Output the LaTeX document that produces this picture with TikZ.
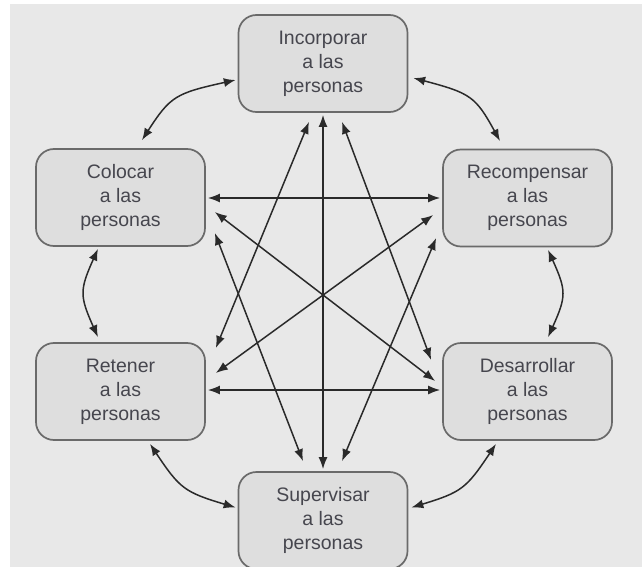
\documentclass[tikz,border=0pt]{standalone}
\usepackage{fontspec}
\setmainfont{Liberation Sans}
\usetikzlibrary{calc,arrows.meta,bending}
\definecolor{bgc}{HTML}{E8E8E8}
\definecolor{boxc}{HTML}{DEDEDE}
\definecolor{edgec}{HTML}{6A6A6A}
\definecolor{txtc}{HTML}{46464E}
\definecolor{arrc}{HTML}{2A2A2A}
\begin{document}
\begin{tikzpicture}[x=1pt,y=-1pt,
  proc/.style={draw=edgec, line width=1.7pt, fill=boxc, rounded corners=18pt,
    minimum width=169pt, minimum height=97pt, inner sep=0pt, align=center,
    text=txtc, font=\fontsize{19.5}{24}\selectfont},
  arr/.style={draw=arrc, line width=1.5pt, {Latex[length=12pt,width=9pt]}-{Latex[length=12pt,width=9pt]}},
  carr/.style={draw=arrc, line width=1.5pt, {Latex[length=12pt,width=9pt,bend]}-{Latex[length=12pt,width=9pt,bend]}}]
\useasboundingbox (0,0) rectangle (642,567);
\fill[white] (0,0) rectangle (642,567);
\fill[bgc] (10,4) rectangle (642,567);

\node[proc] (inc) at (323,63.5) {Incorporar\\a las\\personas};
\node[proc] (col) at (120.5,197.5) {Colocar\\a las\\personas};
\node[proc] (rec) at (527.5,198) {Recompensar\\a las\\personas};
\node[proc] (ret) at (120.5,391.5) {Retener\\a las\\personas};
\node[proc] (des) at (527.5,391.5) {Desarrollar\\a las\\personas};
\node[proc] (sup) at (323,520.5) {Supervisar\\a las\\personas};

% straight connectors
\draw[arr] ($(col.east)+(2,0.5)$) -- ($(rec.west)+(-2,0)$);
\draw[arr] ($(ret.east)+(2,-1.5)$) -- ($(des.west)+(-2,-1.5)$);
\draw[arr] ($(col.east)+(9,14.5)$) -- ($(des.west)+(-7,-10.5)$);
\draw[arr] ($(ret.east)+(10,-18.5)$) -- ($(rec.west)+(-9,17)$);
\draw[arr] ($(col.east)+(9,35.5)$) -- ($(sup.north)+(-20,-10)$);
\draw[arr] ($(ret.east)+(10,-43.5)$) -- ($(inc.south)+(-14,9)$);
\draw[arr] ($(rec.west)+(-6,40)$) -- ($(sup.north)+(19,-10)$);
\draw[arr] ($(inc.south)+(19,9)$) -- ($(des.west)+(-11,-31.5)$);
\draw[arr] ($(inc.south)+(0,2)$) -- ($(sup.north)+(0,-2)$);

% curved connectors
\draw[carr] ($(inc.west)+(-2,16.5)$) .. controls (171.5,94) .. ($(col.north)+(21.5,-8)$);
\draw[carr] ($(inc.east)+(5,14.5)$) .. controls (474.5,94) .. ($(rec.north)+(-27.5,-7.5)$);
\draw[carr] ($(col.south)+(-22.5,2)$) .. controls (78,293) .. ($(ret.north)+(-22.5,-5)$);
\draw[carr] ($(rec.south)+(20.5,2.5)$) .. controls (568,293.5) .. ($(des.north)+(20.5,-5)$);
\draw[carr] ($(ret.south)+(29.5,3)$) .. controls (181.5,491.5) .. ($(sup.west)+(-2,-13)$);
\draw[carr] ($(des.south)+(-31.5,3)$) .. controls (464.5,491.5) .. ($(sup.east)+(3,-13)$);
\end{tikzpicture}
\end{document}
